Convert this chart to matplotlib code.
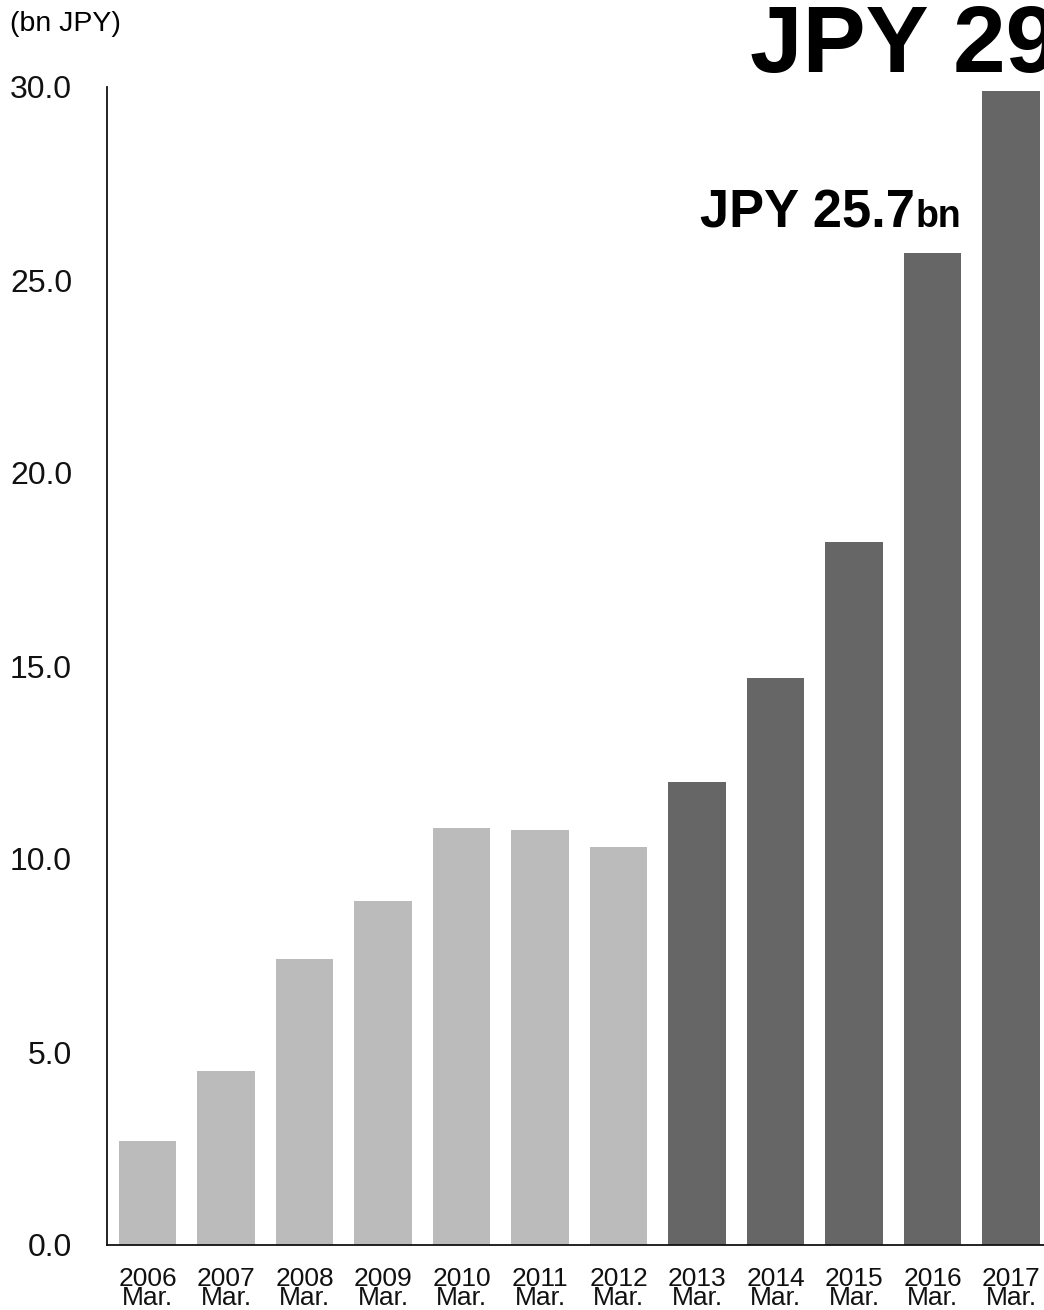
import matplotlib
matplotlib.use("Agg")
import matplotlib.pyplot as plt

plt.rcParams['font.family'] = ['Liberation Sans', 'DejaVu Sans']

# 売上高推移（十億円）
years = ["2006", "2007", "2008", "2009", "2010", "2011",
         "2012", "2013", "2014", "2015", "2016", "2017"]
sales = [2.7, 4.5, 7.4, 8.9, 10.8, 10.75, 10.3, 12.0, 14.7, 18.2, 25.7, 29.9]
is_recent = [False] * 7 + [True] * 5
yticks = [0, 5, 10, 15, 20, 25, 30]

W, H = 1044, 1310
fig = plt.figure(figsize=(W / 100, H / 100), dpi=100)
ax = fig.add_axes([107 / W, (H - 1245) / H, (W - 107) / W, (1245 - 87) / H])

colors = ["#666666" if r else "#BBBBBB" for r in is_recent]
x = list(range(len(years)))
ax.bar(x, sales, width=0.73, color=colors)

ax.set_xlim(-0.516, 11.42)
ax.set_ylim(0, 30)
ax.set_yticks(yticks)
ax.set_yticklabels([f"{v:.1f}" for v in yticks], fontsize=23, color="#111111")
ax.set_xticks(x)
ax.set_xticklabels([f"{y}\nMar." for y in years], fontsize=19,
                   linespacing=0.72, color="#111111")
ax.tick_params(axis="both", length=0)
ax.tick_params(axis="y", pad=35 * 72 / 100)
ax.tick_params(axis="x", pad=16)

for s in ["top", "right"]:
    ax.spines[s].set_visible(False)
for s in ["left", "bottom"]:
    ax.spines[s].set_linewidth(1.3)
    ax.spines[s].set_color("#111111")

fig.text(10 / W, 1 - 24 / H, "(bn JPY)", fontsize=20.5, va="center", ha="left")


def bn_label(px, py, value, size, small, gap):
    t = fig.text(px / W, 1 - py / H, f"JPY {value:.1f}", fontsize=size,
                 fontweight="bold", va="baseline", ha="left")
    fig.canvas.draw()
    bb = t.get_window_extent()
    fig.text((bb.x1 + gap) / W, 1 - py / H, "bn", fontsize=small,
             fontweight="bold", va="baseline", ha="left")


bn_label(750, 72, sales[-1], 68, 50, 2)
bn_label(700, 227, sales[-2], 37.8, 27, 1)

fig.savefig("out.png", dpi=100)
